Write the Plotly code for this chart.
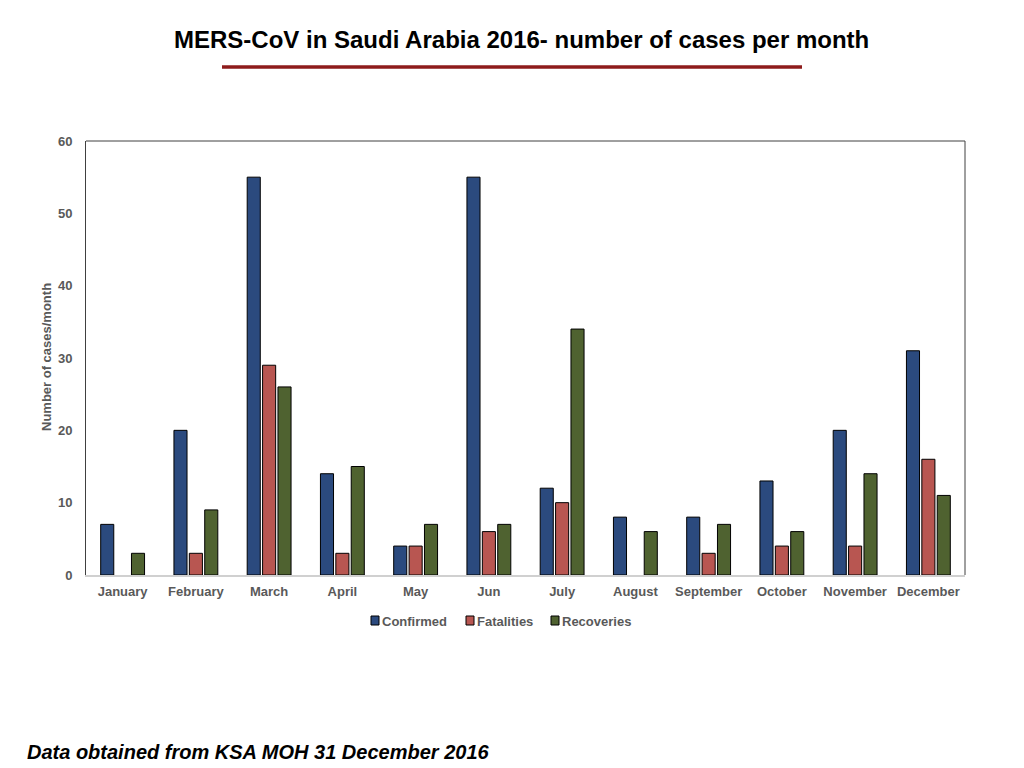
import plotly.graph_objects as go

months = ["January", "February", "March", "April", "May", "Jun", "July",
          "August", "September", "October", "November", "December"]
confirmed = [7, 20, 55, 14, 4, 55, 12, 8, 8, 13, 20, 31]
fatalities = [None, 3, 29, 3, 4, 6, 10, None, 3, 4, 4, 16]
recoveries = [3, 9, 26, 15, 7, 7, 34, 6, 7, 6, 14, 11]

colors = {"Confirmed": "#2B4A7E", "Fatalities": "#B85651", "Recoveries": "#4F6230"}
FONT = "Liberation Sans, Arial, Helvetica"
GREY = "#595959"

# page offset (browser body margin)
OFF = 8
W, H = 1024, 768
L, R, T, B = 86 - OFF, W - 965 + OFF, 141 - OFF, H - 575 + OFF
plot_w = W - L - R
plot_h = H - T - B


def px_x(px):
    return (px - OFF - L) / plot_w


def px_y(py):
    return (H - B - (py - OFF)) / plot_h


def label(x, y, text, size, color=GREY, xanchor="center", angle=0):
    fig.add_annotation(
        x=px_x(x), y=px_y(y), xref="paper", yref="paper",
        xanchor=xanchor, yanchor="middle", textangle=angle,
        text=text, showarrow=False,
        font=dict(size=size, color=color, family=FONT),
    )


fig = go.Figure()
for name, vals in [("Confirmed", confirmed), ("Fatalities", fatalities), ("Recoveries", recoveries)]:
    fig.add_trace(go.Bar(
        x=months, y=vals, name=name,
        marker=dict(color=colors[name], line=dict(color="black", width=1)),
    ))

fig.update_layout(
    width=W, height=H,
    paper_bgcolor="white", plot_bgcolor="white",
    margin=dict(l=L, r=R, t=T, b=B),
    barmode="group", bargap=0.37, bargroupgap=0.15,
    font=dict(family=FONT, color=GREY, size=12),
    showlegend=False,
)

# title and red rule
label(521, 39, "<b>MERS-CoV in Saudi Arabia 2016- number of cases per month</b>", 24, color="black")
fig.add_shape(type="line", xref="paper", yref="paper",
              x0=px_x(222), x1=px_x(802), y0=px_y(67), y1=px_y(67),
              line=dict(color="#8E1B1B", width=3.5))

# footer
label(25, 752, "<b><i>Data obtained from KSA MOH 31 December 2016</i></b>", 20,
      color="black", xanchor="left")

# y axis title
label(46, 357, "<b>Number of cases/month</b>", 13, angle=-90)

# legend built by hand
legend_items = [("Confirmed", 371), ("Fatalities", 466), ("Recoveries", 551)]
for name, lx in legend_items:
    fig.add_shape(type="rect", xref="paper", yref="paper",
                  x0=px_x(lx), x1=px_x(lx + 8), y0=px_y(625), y1=px_y(616),
                  fillcolor=colors[name], line=dict(color="black", width=1))
    label(lx + 9, 621, "<b>" + name + "</b>", 13, xanchor="left")

fig.update_xaxes(
    showline=True, linecolor="#D0D0D0", linewidth=1.5, mirror=False,
    tickfont=dict(size=13, color=GREY), ticks="", ticklabelstandoff=4,
    tickprefix="<b>", ticksuffix="</b>",
)
fig.update_yaxes(
    range=[0, 60], dtick=10, showgrid=False, zeroline=False,
    showline=True, linecolor="#404040", linewidth=1, mirror=False,
    tickfont=dict(size=13, color=GREY), ticks="", ticklabelstandoff=10,
    tickprefix="<b>", ticksuffix="</b>",
)
# top and right frame lines
fig.add_shape(type="line", xref="paper", yref="paper", x0=0, x1=1, y0=1, y1=1,
              line=dict(color="#404040", width=1))
fig.add_shape(type="line", xref="paper", yref="paper", x0=1, x1=1, y0=0, y1=1,
              line=dict(color="#404040", width=1))

fig.write_html("out.html")
